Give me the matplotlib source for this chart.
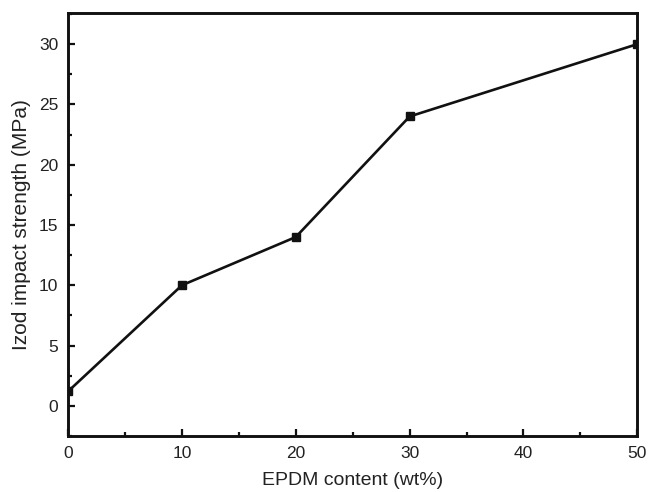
import matplotlib.pyplot as plt
from matplotlib.ticker import MultipleLocator

# EPDM loading vs notched Izod impact strength
epdm_wt = [0, 10, 20, 30, 50]
impact_strength = [1.2, 10, 14, 24, 30]

plt.rcParams['font.family'] = ['Liberation Sans', 'DejaVu Sans']

fig = plt.figure(figsize=(6.49, 4.92), dpi=100)
ax = fig.add_axes([0.105, 0.114, 0.877, 0.86])

ax.plot(epdm_wt, impact_strength, color='#111111', linewidth=1.9,
        marker='s', markersize=6.3, markerfacecolor='#111111',
        markeredgecolor='#111111')

ax.set_xlim(0, 50)
ax.set_ylim(-2.5, 32.6)
ax.xaxis.set_major_locator(MultipleLocator(10))
ax.xaxis.set_minor_locator(MultipleLocator(5))
ax.yaxis.set_major_locator(MultipleLocator(5))
ax.yaxis.set_minor_locator(MultipleLocator(2.5))

ax.tick_params(which='both', direction='in', top=False, right=False,
               width=1.6, color='#111111', labelsize=12.5, labelcolor='#222222')
ax.tick_params(axis='x', pad=7)
ax.tick_params(axis='y', pad=7)
ax.tick_params(which='major', length=5)
ax.tick_params(which='minor', length=3)

for side in ax.spines.values():
    side.set_linewidth(2.1)
    side.set_color('#111111')

ax.set_xlabel('EPDM content (wt%)', fontsize=14, labelpad=8, color='#222222')
ax.set_ylabel('Izod impact strength (MPa)', fontsize=15, labelpad=6, color='#222222')

fig.savefig('out.png', dpi=100)
